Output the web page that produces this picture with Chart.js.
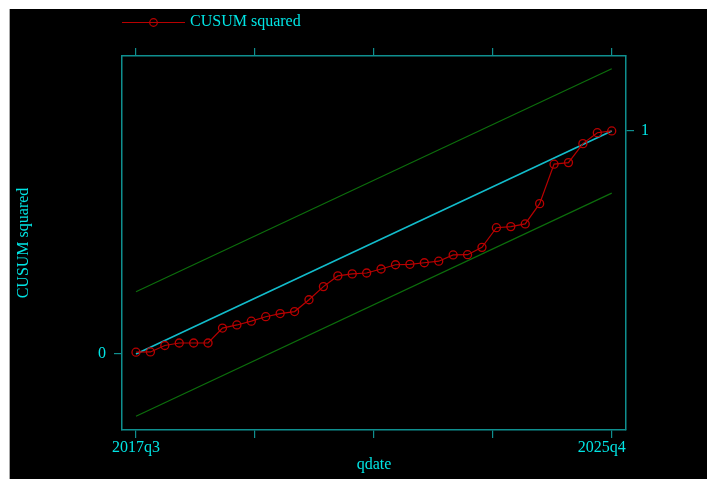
<!DOCTYPE html>
<html lang="en">
<head>
<meta charset="UTF-8">
<title>CUSUM squared</title>
<script src="https://cdn.jsdelivr.net/npm/chart.js"></script>
<style>
    body { margin: 0; background: #fff; width: 707px; height: 479px; overflow: hidden; position: relative; }
    #caption { position: absolute; left: 0; top: 0; width: 707px; height: 9px; overflow: hidden; }
    #caption span { position: absolute; left: 18px; top: -25px; font: 24px/24px 'Liberation Serif', serif; color: #000; white-space: nowrap; }
    #edge { position: absolute; left: 9px; top: 9px; width: 1px; height: 470px; background: #a8a8a8; }
    #panel { position: absolute; left: 10px; top: 9px; width: 697px; height: 470px; background: #000; }
</style>
</head>
<body>
<div id="caption"><span>the plot positions, approaching the line of unity</span></div>
<div id="edge"></div>
<div id="panel"><canvas id="cusum" width="697" height="470"></canvas></div>

<script>
// quarters 2017q3 .. 2025q4
const quarters = [
    '2017q3','2017q4','2018q1','2018q2','2018q3','2018q4','2019q1','2019q2','2019q3','2019q4',
    '2020q1','2020q2','2020q3','2020q4','2021q1','2021q2','2021q3','2021q4','2022q1','2022q2',
    '2022q3','2022q4','2023q1','2023q2','2023q3','2023q4','2024q1','2024q2','2024q3','2024q4',
    '2025q1','2025q2','2025q3','2025q4'
];
const cusumSq = [
    0.008, 0.009, 0.038, 0.049, 0.049, 0.049, 0.116, 0.130, 0.147, 0.167,
    0.181, 0.190, 0.243, 0.302, 0.350, 0.359, 0.363, 0.381, 0.400, 0.402,
    0.409, 0.416, 0.444, 0.445, 0.478, 0.566, 0.571, 0.583, 0.674, 0.851,
    0.858, 0.943, 0.992, 1.000
];
// straight lines: expected path and the two bounds, at first and last quarter
const lineX = [0, 33];
const expected = [0, 1];
const lowerBound = [-0.279, 0.721];
const upperBound = [0.279, 1.279];

const xTickPos = [0, 8.25, 16.5, 24.75, 33];
const xTickLabels = ['2017q3', '', '', '', '2025q4'];
const yLeftTicks = [0];
const yRightTicks = [1];

const teal = '#0f8f8f';
const cyan = '#00e4e4';
const lineCyan = '#12bccb';
const green = '#0c6e0c';
const red = '#b80000';
const serif = "'Liberation Serif', 'Times New Roman', serif";

Chart.defaults.font.family = serif;
Chart.defaults.font.size = 16;
Chart.defaults.color = cyan;

function pairs(xs, ys) { return xs.map((x, i) => ({ x: x, y: ys[i] })); }

// legend symbol: line with a hollow circle in the middle
const icon = document.createElement('canvas');
icon.width = 66; icon.height = 12;
(function () {
    const c = icon.getContext('2d');
    c.strokeStyle = red; c.lineWidth = 1.2;
    c.beginPath(); c.moveTo(3, 6.5); c.lineTo(66, 6.5); c.stroke();
    c.beginPath(); c.arc(34.5, 6.5, 3.8, 0, Math.PI * 2); c.stroke();
})();

const gridOpts = { drawOnChartArea: false, drawTicks: true, tickLength: 8, color: teal, lineWidth: 1.2 };
const borderOpts = { display: true, color: teal, width: 1.5 };
const xMin = -0.97, xMax = 33.99;
const yMin = -0.341, yMax = 1.336;

new Chart(document.getElementById('cusum'), {
    type: 'line',
    data: {
        datasets: [
            { label: 'lower', data: pairs(lineX, lowerBound), borderColor: green, borderWidth: 1.2, pointRadius: 0, xAxisID: 'x', yAxisID: 'y' },
            { label: 'upper', data: pairs(lineX, upperBound), borderColor: green, borderWidth: 1.2, pointRadius: 0, xAxisID: 'x', yAxisID: 'y' },
            {
                label: 'CUSUM squared',
                data: cusumSq.map((v, i) => ({ x: i, y: v })),
                borderColor: red, borderWidth: 1.2,
                pointRadius: 4, pointBorderColor: red, pointBorderWidth: 1.3,
                pointBackgroundColor: 'rgba(0,0,0,0)',
                xAxisID: 'x', yAxisID: 'y'
            },
            { label: 'expected', data: pairs(lineX, expected), borderColor: lineCyan, borderWidth: 1.6, pointRadius: 0, xAxisID: 'x', yAxisID: 'y' }
        ]
    },
    options: {
        responsive: false,
        animation: false,
        layout: { padding: { top: 5 } },
        plugins: {
            tooltip: { enabled: false },
            legend: {
                position: 'top',
                align: 'start',
                fullSize: false,
                labels: {
                    usePointStyle: true,
                    pointStyleWidth: 60,
                    boxHeight: 10,
                    padding: 0,
                    font: { size: 16 },
                    generateLabels: () => [{
                        text: 'CUSUM squared', pointStyle: icon, fontColor: cyan,
                        fillStyle: 'rgba(0,0,0,0)', strokeStyle: red, lineWidth: 0, datasetIndex: 2
                    }]
                }
            }
        },
        scales: {
            x: {
                type: 'linear', position: 'bottom', min: xMin, max: xMax,
                afterBuildTicks: s => { s.ticks = xTickPos.map(v => ({ value: v })); },
                afterFit: s => { s.height = 49; },
                grid: gridOpts, border: borderOpts,
                ticks: {
                    color: cyan, padding: 0, maxRotation: 0, autoSkip: false,
                    // last label sits a little left of its tick in the original
                    callback: (v, i) => i === xTickLabels.length - 1 ? xTickLabels[i] + '     ' : xTickLabels[i]
                },
                title: { display: true, text: 'qdate', color: cyan, padding: { top: 5, bottom: 5 } }
            },
            xTop: {
                type: 'linear', position: 'top', min: xMin, max: xMax,
                afterBuildTicks: s => { s.ticks = xTickPos.map(v => ({ value: v })); },
                afterFit: s => { s.height = 16; },
                grid: gridOpts, border: borderOpts,
                ticks: { display: false }
            },
            y: {
                type: 'linear', position: 'left', min: yMin, max: yMax,
                afterBuildTicks: s => { s.ticks = yLeftTicks.map(v => ({ value: v })); },
                afterFit: s => { s.width = 112; },
                grid: gridOpts, border: borderOpts,
                ticks: { color: cyan, padding: 8, callback: v => String(v) },
                title: { display: true, text: 'CUSUM squared', color: cyan, padding: { top: 4, bottom: 0 } }
            },
            y2: {
                type: 'linear', position: 'right', min: yMin, max: yMax,
                afterBuildTicks: s => { s.ticks = yRightTicks.map(v => ({ value: v })); },
                afterFit: s => { s.width = 81; },
                grid: gridOpts, border: borderOpts,
                ticks: { color: cyan, padding: 7, callback: v => String(v) }
            }
        }
    }
});
</script>
</body>
</html>
